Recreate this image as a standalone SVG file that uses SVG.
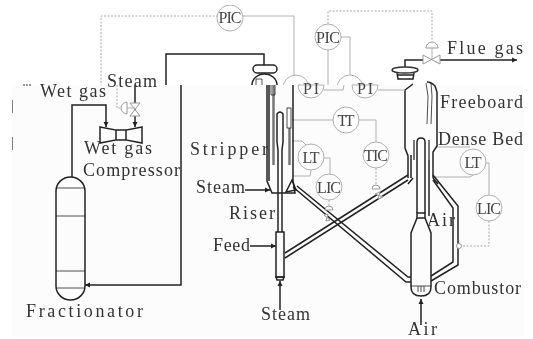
<svg xmlns="http://www.w3.org/2000/svg" width="533" height="339" viewBox="0 0 533 339">
<style>
text{font-family:"Liberation Serif",serif;fill:#333}
.l{font-size:18px}
.i{font-size:16px;text-anchor:middle;fill:#444}
.p{fill:none;stroke:#222;stroke-width:1.5}
.t{fill:none;stroke:#222;stroke-width:.8}
.g{fill:none;stroke:#b0b0b0;stroke-width:1}
.d{fill:none;stroke:#aaa;stroke-width:1;stroke-dasharray:2 1.5}
.c{fill:#fff;stroke:#b0b0b0;stroke-width:1}
.w{fill:#fff;stroke:#333;stroke-width:1.5}
.v{fill:#fff;stroke:#999;stroke-width:1}
</style>
<defs>
<marker id="a" markerWidth="6" markerHeight="6" refX="5" refY="3" orient="auto" markerUnits="userSpaceOnUse"><path d="M0 .5L5 3L0 5.5z" fill="#222"/></marker>
<clipPath id="top"><rect x="0" y="0" width="533" height="85"/></clipPath>
<filter id="b" x="0" y="0" width="100%" height="100%"><feGaussianBlur stdDeviation="0.35"/></filter>
</defs>
<rect width="533" height="339" fill="#fff"/>
<g filter="url(#b)">
<g id="upper-connectors">
<path class="d" d="M218 16H101V85"/>
<path class="g" d="M243 16H294V76"/>
<path class="g" d="M328 50V85M341 37H350V76"/>
<path class="d" d="M328 24V11H432V41"/>
<path class="p" d="M166 85V54H264V65"/>
<path class="p" d="M440 60H517" marker-end="url(#a)"/>
<path class="p" d="M423 60H405V68"/>
</g>
<g id="node-pic-top"><circle class="c" cx="230" cy="18" r="13"/><text class="i" x="230" y="23" textLength="23">PIC</text></g>
<g id="node-pic-right"><circle class="c" cx="328" cy="37" r="13"/><text class="i" x="328" y="43" textLength="24">PIC</text></g>
<g id="node-pi-back" clip-path="url(#top)"><circle class="c" cx="296" cy="88" r="13"/><circle class="c" cx="350" cy="88" r="13"/></g>
<g id="node-flue-valve">
<path class="v" d="M426 48a6 6 0 0 1 12 0z"/>
<path class="g" d="M432 48V60"/>
<path class="v" d="M423 55L440 64V55L423 64z"/>
</g>
<g id="node-regen-cap">
<ellipse class="w" cx="405" cy="70" rx="13" ry="3"/>
<path class="p" d="M397 73L398 79H413L414 73M398 75H413"/>
</g>
<g id="node-stripper-cap">
<rect class="p" x="253" y="65" width="24" height="8" rx="4" fill="#fff"/>
<path class="p" d="M252 85a12.500 11 0 0 1 25 0"/>
<path class="t" d="M256 85V79H262V85"/>
</g>
<rect id="panel" x="12" y="85" width="512" height="252" fill="#fcfcfc"/>
<path d="M24 84V86M27 84V86M30 84V86" stroke="#333" stroke-width="1" fill="none"/>
<path d="M12 100V113M12 137V150" stroke="#555" stroke-width="1.500"/>
<g id="connectors">
<path class="p" d="M181 85V285H85" marker-end="url(#a)"/>
<path class="p" d="M72 177V105H106V127" marker-end="url(#a)"/>
<path class="p" d="M135 85V127" marker-end="url(#a)"/>
<path class="d" d="M117 85V108H120"/>
<path class="p" d="M245 190H270" marker-end="url(#a)"/>
<path class="p" d="M250 246H276" marker-end="url(#a)"/>
<path class="p" d="M280 310V281" marker-end="url(#a)"/>
<path class="p" d="M421 325V299" marker-end="url(#a)"/>
<path class="g" d="M292 120H333M359 120H376V142"/>
<path class="g" d="M292 141H302L306 145M293 176H310L311 170M324 158H330V174"/>
<path class="g" d="M437 147H470M433 177H470L473 175M486 163H489V195"/>
<path class="d" d="M329 200V208M376 168V186M489 221V246H462"/>
<g id="standpipes">
<path class="p" d="M293 187L406 282H411M297 186L408 277H411"/>
<path class="p" d="M285 258L408 180M285 253L408 175"/>
<path class="p" d="M433 180L453 208V262L431 276M433 175L458 206V265L431 281"/>
</g>
</g>
<g id="node-fractionator">
<path class="p" d="M56 191a14.500 14 0 0 1 29 0V286a14.500 14 0 0 1 -29 0z" fill="#fcfcfc"/>
<path class="t" d="M56 188H85M56 216H85M56 271H85M56 288H85"/>
</g>
<g id="node-compressor">
<path class="p" d="M100 127L116 130V140L100 143zM142 127L126 130V140L142 143zM116 130H126M116 140H126" fill="#fcfcfc"/>
</g>
<g id="node-steam-valve">
<path class="v" d="M130 103L140 116H130L140 103z"/>
<path class="v" d="M127 102a6 6 0 0 0 0 12z"/>
<path class="g" d="M127 108H135"/>
</g>
<g id="node-stripper">
<path class="p" d="M267 85V181L272 193H295L293 181V85"/>
<path class="p" d="M269 85V181"/>
<path d="M273.500 85V165M289.500 110V165" stroke="#777" stroke-width="2.500" fill="none"/>
<path class="p" d="M278 232V150L277 142V114Q280 110 283 114V142L282 150V232"/>
<path class="t" d="M271 85V95H275V85"/>
<rect x="287" y="108" width="4" height="20" fill="#fcfcfc" stroke="#222" stroke-width=".8"/>
<rect class="p" x="276" y="232" width="8" height="45" fill="#fcfcfc"/>
<path class="p" d="M276 277H284L283 280H277z"/>
<path class="p" d="M292 180L286 192L296 190z" fill="#fff"/>
</g>
<g id="node-regenerator">
<path class="p" d="M413 84L405 90V148L408 156V178M427 82Q431 82 435 86L437 92V146L433 152V178"/>
<path class="t" d="M426 83L428 96L427 124M431 83L432 96L431 124"/>
<path class="p" d="M417 213V142Q417 138 421 138Q425 138 425 142V213"/>
<path d="M414 140V160M429 140V160" stroke="#777" stroke-width="2" fill="none"/>
<path class="p" d="M411 155V178M429 160V216"/>
<path class="p" d="M413 178L408 184M433 178L438 184" stroke-width="1.200"/>
<path class="p" d="M417 213H425V218H417z"/>
<path class="p" d="M417 218L411 233V287Q411 296 421 296Q431 296 431 287V233L425 218" fill="#fcfcfc"/>
<path class="t" d="M411 286H431M418 286V292M421 286V292M424 286V292"/>
</g>
<g id="node-pi-front">
<path class="c" d="M298 85A13 13 0 1 0 324 85z"/>
<path class="c" d="M352 85A13 13 0 1 0 378 85z"/>
<path class="g" d="M324 90H343L344 85M378 90H405"/>
<text class="i" x="311" y="94" textLength="16">PI</text><text class="i" x="365" y="94" textLength="16">PI</text>
</g>
<g id="node-tt"><circle class="c" cx="346" cy="120" r="13"/><text class="i" x="346" y="126" textLength="17">TT</text></g>
<g id="node-tic"><circle class="c" cx="376" cy="155" r="13"/><text class="i" x="376" y="161" textLength="24">TIC</text></g>
<g id="node-lt1"><circle class="c" cx="311" cy="157" r="13"/><text class="i" x="311" y="163" textLength="17">LT</text></g>
<g id="node-lic1"><circle class="c" cx="329" cy="187" r="13"/><text class="i" x="329" y="193" textLength="24">LIC</text></g>
<g id="node-lt2"><circle class="c" cx="473" cy="162" r="13"/><text class="i" x="473" y="168" textLength="17">LT</text></g>
<g id="node-lic2"><circle class="c" cx="489" cy="208" r="13"/><text class="i" x="489" y="214" textLength="24">LIC</text></g>
<g id="node-valves">
<path class="v" d="M325 210a4 4 0 0 1 8 0z"/><path class="v" d="M324 215L330 220L326 221L328 214z"/>
<path class="v" d="M372 189a4 4 0 0 1 8 0z"/><path class="v" d="M375 194L383 197L378 199L380 192z"/>
<circle cx="459" cy="246" r="2.500" class="v"/>
</g>
<g id="labels">
<text class="l" x="40" y="97" textLength="66">Wet gas</text>
<text class="l" x="84" y="154" textLength="68">Wet gas</text>
<text class="l" x="83" y="176" textLength="97">Compressor</text>
<text class="l" x="190" y="155" textLength="78">Stripper</text>
<text class="l" x="196" y="193" textLength="49">Steam</text>
<text class="l" x="229" y="219" textLength="46">Riser</text>
<text class="l" x="213" y="251" textLength="37">Feed</text>
<text class="l" x="26" y="317" textLength="117">Fractionator</text>
<text class="l" x="261" y="320" textLength="49">Steam</text>
<text class="l" x="408" y="334.500" textLength="29">Air</text>
<text class="l" x="427" y="226" textLength="28">Air</text>
<text class="l" x="434" y="294" textLength="87">Combustor</text>
<text class="l" x="440" y="108" textLength="83">Freeboard</text>
<text class="l" x="438" y="145" textLength="85">Dense Bed</text>
<text class="l" x="447" y="54" textLength="76">Flue gas</text>
<text class="l" x="107" y="87" textLength="50">Steam</text>
</g>
</g>
</svg>
